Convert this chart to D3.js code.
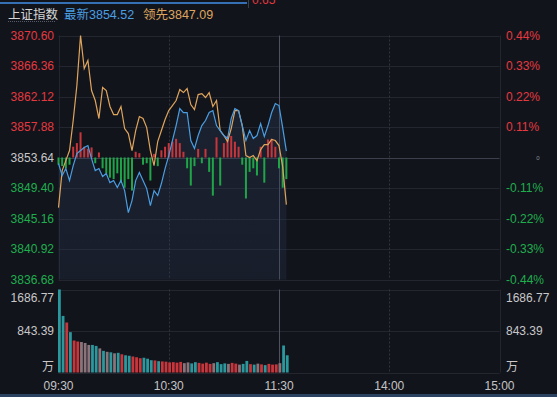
<!DOCTYPE html>
<html>
<head>
<meta charset="utf-8">
<script src="https://cdn.jsdelivr.net/npm/d3@7"></script>
<style>
  html, body { margin: 0; padding: 0; background: #12141c; }
  svg { display: block; }
  text { font-family: "Liberation Sans", "Noto Sans CJK SC", sans-serif; }
</style>
</head>
<body>
<div id="chart"></div>
<script>
// 上证指数 intraday, sampled every 2 minutes from 09:30
const preClose = 3853.64;
const priceTicks = [3870.60, 3866.36, 3862.12, 3857.88, 3853.64, 3849.40, 3845.16, 3840.92, 3836.68];
const pctTicks = ['0.44%', '0.33%', '0.22%', '0.11%', '', '-0.11%', '-0.22%', '-0.33%', '-0.44%'];
const timeTicks = [0, 60, 120, 180, 240];
const timeLabels = ['09:30', '10:30', '11:30', '14:00', '15:00'];
const volTicks = [1686.77, 843.39];
const volMax = 1686.77;

const latest = [3852.80, 3851.13, 3852.10, 3850.43, 3852.52, 3854.19, 3854.61, 3855.02, 3855.30, 3853.49,
  3851.82, 3852.10, 3850.99, 3851.41, 3850.15, 3850.43, 3849.46, 3850.43, 3849.04, 3845.98,
  3847.65, 3850.43, 3851.55, 3850.43, 3849.32, 3846.96, 3849.04, 3848.35, 3850.02, 3852.10,
  3853.91, 3856.00, 3858.08, 3860.45, 3859.89, 3859.89, 3856.00, 3854.88, 3856.69, 3858.08,
  3858.78, 3859.89, 3860.17, 3858.08, 3857.39, 3856.69, 3856.27, 3859.06, 3860.45, 3860.17,
  3858.08, 3856.00, 3857.39, 3856.27, 3856.69, 3858.36, 3856.55, 3858.08, 3859.89, 3861.14,
  3860.86, 3857.80, 3854.52];

const leading = [3846.68, 3851.82, 3853.21, 3854.61, 3858.78, 3863.65, 3870.60, 3866.01, 3867.12, 3862.95,
  3861.56, 3859.06, 3863.37, 3862.95, 3860.73, 3859.61, 3859.61, 3860.73, 3857.67, 3856.97,
  3854.61, 3857.39, 3859.33, 3859.06, 3857.80, 3854.61, 3852.52, 3855.86, 3857.39, 3858.92,
  3860.17, 3860.86, 3861.56, 3863.09, 3862.67, 3863.23, 3861.00, 3860.31, 3862.39, 3862.53,
  3861.98, 3862.67, 3860.73, 3861.56, 3857.39, 3856.69, 3855.86, 3857.67, 3860.17, 3860.17,
  3858.08, 3853.91, 3853.63, 3853.91, 3853.21, 3854.74, 3855.44, 3855.44, 3856.14, 3856.00,
  3855.30, 3852.38, 3847.09];

// buy/sell strength, in index points around the previous close
const strength = [-1.0, -1.2, -1.5, -1.0, 1.5, 2.0, 3.5, 1.5, 1.2, 1.4,
  -0.8, 0.7, -1.5, -2.2, -2.8, -3.0, -2.2, -3.5, -4.2, -3.0,
  -4.6, 0.8, 0.6, -1.0, -0.8, -3.2, 0.5, -1.2, 1.0, 1.5,
  2.0, 2.2, 2.6, 2.0, 0.8, -1.5, -3.9, -1.2, 1.2, -0.8,
  1.2, -2.0, -5.3, 2.8, -3.9, 2.0, 3.0, 3.0, 2.2, 1.5,
  -1.0, -5.7, -2.0, -1.5, -2.5, 1.5, -3.5, 2.5, 2.6, 1.5,
  -1.5, -4.2, -3.0];

const volume = [1686.77, 1150, 1016, 820, 650, 630, 620, 600, 560, 560,
  540, 490, 440, 420, 410, 390, 400, 370, 350, 340,
  325, 310, 290, 300, 280, 250, 245, 230, 225, 220,
  205, 210, 200, 215, 190, 205, 185, 210, 195, 180,
  200, 175, 190, 210, 170, 185, 175, 195, 180, 160,
  175, 235, 170, 160, 180, 165, 150, 175, 160, 165,
  190, 549, 350];

const minutes = d3.range(0, latest.length * 2, 2);

const colors = {
  bg: '#12141c',
  grid: '#23262f',
  gridLight: '#3c404c',
  latest: '#4a9ee2',
  leading: '#dfa55c',
  up: '#e5393f',
  down: '#1fae4c',
  flat: '#c8c8c8',
  volUp: '#c8363c',
  volDown: '#2a989c',
  volFlat: '#8a7379'
};

const W = 557, H = 397;
const left = 58.5, right = 499.5;
const svg = d3.select('#chart').append('svg').attr('width', W).attr('height', H);
svg.append('rect').attr('width', W).attr('height', H).attr('fill', colors.bg);

const x = d3.scaleLinear().domain([0, 240]).range([left, right]);
const y = d3.scaleLinear().domain([3836.68, 3870.60]).range([279.5, 35.5]);
const yv = d3.scaleLinear().domain([0, volMax]).range([372.5, 289.5]);

// header
svg.append('rect').attr('x', 0).attr('y', 2).attr('width', 247).attr('height', 2).attr('fill', '#3570b4');
svg.append('line').attr('x1', 248.5).attr('x2', 248.5).attr('y1', 0).attr('y2', 8).attr('stroke', '#3a3e4a');
svg.append('text').attr('x', 252).attr('y', 4).attr('font-size', 12).attr('fill', colors.up).text('0.65');
svg.append('text').attr('x', 8).attr('y', 19).attr('font-size', 12.5).attr('fill', '#d6d6d6').text('上证指数');
svg.append('line').attr('x1', 8).attr('x2', 56).attr('y1', 21.5).attr('y2', 21.5).attr('stroke', '#555a66').attr('stroke-dasharray', '1,1');
svg.append('text').attr('x', 64).attr('y', 19).attr('font-size', 12.5).attr('fill', colors.latest)
  .text('最新' + latest[latest.length - 1].toFixed(2));
svg.append('text').attr('x', 143).attr('y', 19).attr('font-size', 12.5).attr('fill', colors.leading)
  .text('领先' + leading[leading.length - 1].toFixed(2));

// grid
const grid = svg.append('g');
priceTicks.forEach(v => {
  grid.append('line').attr('x1', left).attr('x2', right)
    .attr('y1', Math.round(y(v)) + 0.5).attr('y2', Math.round(y(v)) + 0.5)
    .attr('stroke', v === preClose ? colors.gridLight : colors.grid);
});
volTicks.concat([0]).forEach(v => {
  grid.append('line').attr('x1', left).attr('x2', right)
    .attr('y1', Math.round(yv(v)) + 0.5).attr('y2', Math.round(yv(v)) + 0.5)
    .attr('stroke', colors.grid);
});
timeTicks.forEach(t => {
  const xx = Math.round(x(t)) + 0.5;
  const dashed = t === 60 || t === 180;
  const stroke = t === 120 ? '#4d5160' : colors.grid;
  [[y(3870.60), y(3836.68)], [yv(volMax), yv(0)]].forEach(([y1, y2]) => {
    grid.append('line').attr('x1', xx).attr('x2', xx).attr('y1', y1).attr('y2', y2)
      .attr('stroke', dashed ? '#30343f' : stroke)
      .attr('stroke-dasharray', dashed ? '2,2' : null);
  });
});

// area under latest price
const defs = svg.append('defs');
const grad = defs.append('linearGradient').attr('id', 'fade').attr('x1', 0).attr('y1', 0).attr('x2', 0).attr('y2', 1);
grad.append('stop').attr('offset', '0%').attr('stop-color', '#2a3a55').attr('stop-opacity', 0.35);
grad.append('stop').attr('offset', '100%').attr('stop-color', '#2a3a55').attr('stop-opacity', 0.25);
svg.append('path').datum(latest)
  .attr('fill', 'url(#fade)')
  .attr('d', d3.area().x((d, i) => x(minutes[i])).y0(y(3836.68)).y1(d => y(d)));

// strength bars
svg.append('g').selectAll('rect').data(strength).join('rect')
  .attr('x', (d, i) => x(minutes[i]) - 1)
  .attr('width', 2)
  .attr('y', d => Math.min(y(preClose + d), y(preClose)))
  .attr('height', d => Math.abs(y(preClose + d) - y(preClose)))
  .attr('fill', d => d >= 0 ? '#c8363c' : '#1fa548');

// price lines
const line = d3.line().x((d, i) => x(minutes[i])).y(d => y(d));
svg.append('path').datum(leading).attr('fill', 'none').attr('stroke', colors.leading)
  .attr('stroke-width', 1.2).attr('d', line);
svg.append('path').datum(latest).attr('fill', 'none').attr('stroke', colors.latest)
  .attr('stroke-width', 1.2).attr('d', line);

// volume bars, coloured by the move of the latest price
const volColor = i => {
  if (i === 0) return colors.volDown;
  const ch = latest[i] - latest[i - 1];
  if (Math.abs(ch) < 0.6) return colors.volFlat;
  return ch > 0 ? colors.volUp : colors.volDown;
};
svg.append('g').selectAll('rect').data(volume).join('rect')
  .attr('x', (d, i) => x(minutes[i]) - 0.5)
  .attr('width', 2.8)
  .attr('y', d => yv(d))
  .attr('height', d => yv(0) - yv(d))
  .attr('fill', (d, i) => volColor(i));

// price axis labels
priceTicks.forEach((v, i) => {
  const c = v > preClose ? colors.up : v < preClose ? colors.down : colors.flat;
  svg.append('text').attr('x', 54).attr('y', y(v)).attr('dy', '0.35em')
    .attr('text-anchor', 'end').attr('font-size', 12).attr('fill', c).text(v.toFixed(2));
  if (pctTicks[i]) {
    svg.append('text').attr('x', 506).attr('y', y(v)).attr('dy', '0.35em')
      .attr('font-size', 12).attr('fill', c).text(pctTicks[i]);
  }
});
svg.append('text').attr('x', 538).attr('y', y(preClose) + 2).attr('text-anchor', 'middle')
  .attr('font-size', 6).attr('fill', '#8a8d96').text('0');

// volume axis labels
const volLabel = (xx, anchor) => {
  svg.append('text').attr('x', xx).attr('y', yv(volTicks[0]) + 12).attr('text-anchor', anchor)
    .attr('font-size', 12).attr('fill', colors.flat).text(volTicks[0].toFixed(2));
  svg.append('text').attr('x', xx).attr('y', yv(volTicks[1])).attr('dy', '0.35em').attr('text-anchor', anchor)
    .attr('font-size', 12).attr('fill', colors.flat).text(volTicks[1].toFixed(2));
  svg.append('text').attr('x', xx).attr('y', yv(0) - 2).attr('text-anchor', anchor)
    .attr('font-size', 12).attr('fill', colors.flat).text('万');
};
volLabel(54, 'end');
volLabel(506, 'start');

// time axis
timeTicks.forEach((t, i) => {
  svg.append('text').attr('x', x(t)).attr('y', 390).attr('text-anchor', 'middle')
    .attr('font-size', 12).attr('fill', '#c4c4c4').text(timeLabels[i]);
});
svg.append('rect').attr('x', 0).attr('y', 394).attr('width', W).attr('height', 3).attr('fill', '#2b4361');
</script>
</body>
</html>
